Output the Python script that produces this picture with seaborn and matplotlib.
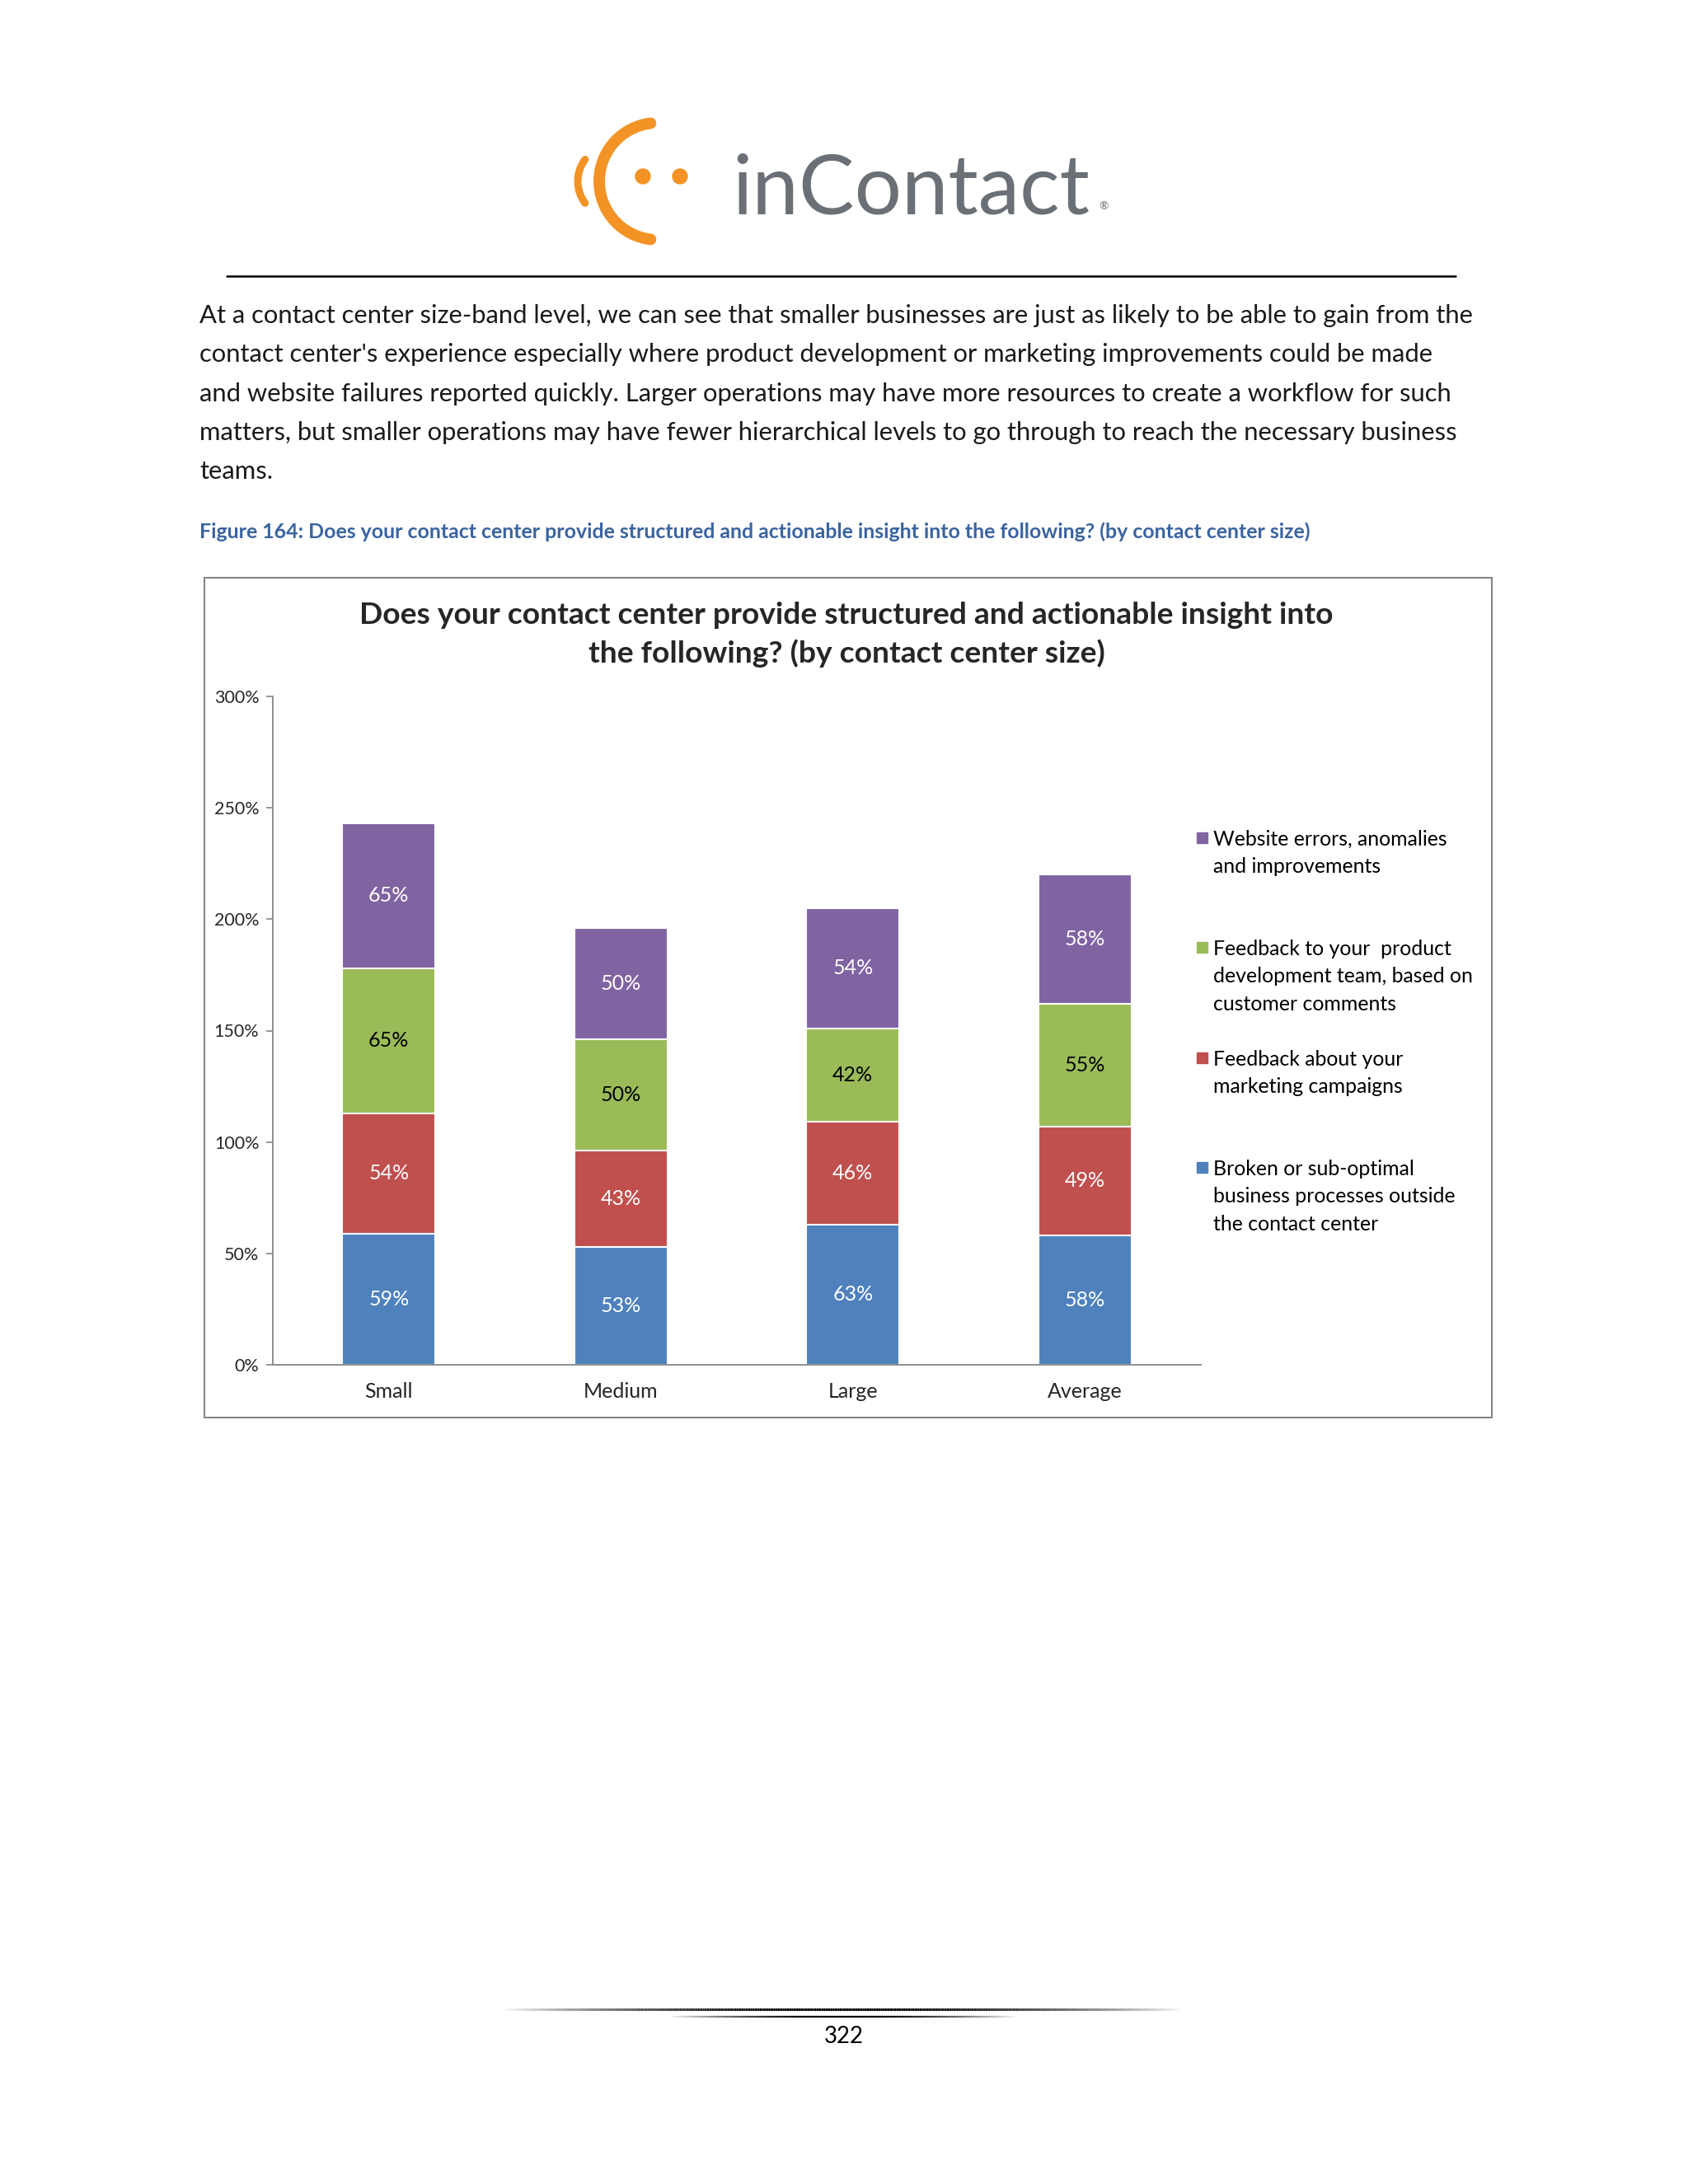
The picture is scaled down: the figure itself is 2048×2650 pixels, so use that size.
import numpy as np
import pandas as pd
import seaborn as sns
import matplotlib.pyplot as plt
from matplotlib.patches import Rectangle, Arc, Circle
from matplotlib.collections import LineCollection

# %%
# data
sizes = ['Small', 'Medium', 'Large', 'Average']
broken = [59, 53, 63, 58]
marketing = [54, 43, 46, 49]
product = [65, 50, 42, 55]
website = [65, 50, 54, 58]

series_labels = [
    'Broken or sub-optimal\nbusiness processes outside\nthe contact center',
    'Feedback about your\nmarketing campaigns',
    'Feedback to your  product\ndevelopment team, based on\ncustomer comments',
    'Website errors, anomalies\nand improvements',
]
colors = ['#4F81BD', '#C0504D', '#9BBB59', '#8064A2']
text_colors = ['white', 'white', 'black', 'white']
yticks = [0, 50, 100, 150, 200, 250, 300]

paragraph = [
    "At a contact center size-band level, we can see that smaller businesses are just as likely to be able to gain from the",
    "contact center's experience especially where product development or marketing improvements could be made",
    "and website failures reported quickly. Larger operations may have more resources to create a workflow for such",
    "matters, but smaller operations may have fewer hierarchical levels to go through to reach the necessary business",
    "teams.",
]
caption = ("Figure 164: Does your contact center provide structured and actionable insight "
           "into the following? (by contact center size)")
chart_title = ("Does your contact center provide structured and actionable insight into\n"
               "the following? (by contact center size)")

# %%
df = pd.DataFrame({'size': sizes, 'broken': broken, 'marketing': marketing,
                   'product': product, 'website': website})
cols = ['broken', 'marketing', 'product', 'website']
cum = df[cols].cumsum(axis=1)

sns.set_style('white')
plt.rcParams['font.family'] = ['Lato', 'DejaVu Sans']

W, H = 2048, 2650
fig = plt.figure(figsize=(W / 100, H / 100), dpi=100)
fig.patch.set_facecolor('white')

# page layer in pixel coordinates
page = fig.add_axes([0, 0, 1, 1])
page.set_xlim(0, W)
page.set_ylim(H, 0)
page.axis('off')

# logo
orange = '#F39325'
page.add_patch(Arc((798, 220), 142, 142, theta1=97, theta2=263, color=orange,
                   lw=10, capstyle='round'))
page.add_patch(Arc((745, 220), 88, 88, theta1=143, theta2=217, color=orange,
                   lw=6.5, capstyle='round'))
page.add_patch(Circle((780, 214), 9, color=orange))
page.add_patch(Circle((825, 214), 9, color=orange))
page.text(888, 259, 'inContact', fontsize=73, color='#6A7075', va='baseline')
page.text(1333, 250, '®', fontsize=10, color='#6A7075', va='center')
page.plot([275, 1766], [335, 335], color='black', lw=1.8)

# paragraph and caption
for i, line in enumerate(paragraph):
    page.text(242, 383 + i * 47.3, line, fontsize=22.3, color='#1a1a1a', va='center')
page.text(242, 645, caption, fontsize=17.9, fontweight='bold', color='#3A64A0', va='center')

# chart frame and title
page.add_patch(Rectangle((248, 701), 1562, 1019, fill=False, edgecolor='#878787', lw=1.5))
page.text(1027, 770, chart_title, fontsize=26.8, fontweight='bold', ha='center',
          va='center', linespacing=1.45)

# legend
leg_tops = [1016, 1149, 1283, 1416]
for k, i in enumerate([3, 2, 1, 0]):
    page.add_patch(Rectangle((1452, leg_tops[k] - 6), 13, 13, color=colors[i]))
    page.text(1472, leg_tops[k] - 9, series_labels[i], fontsize=17.9, va='top',
              linespacing=1.55, color='black')

# footer
def fade_line(x0, x1, y, lw):
    xs = np.linspace(x0, x1, 300)
    segs = [[(xs[j], y), (xs[j + 1], y)] for j in range(len(xs) - 1)]
    mid = (xs[:-1] + xs[1:]) / 2
    a = np.clip(1 - np.abs((mid - (x0 + x1) / 2) / ((x1 - x0) / 2)) ** 2, 0, 1)
    cols_ = [(0, 0, 0, v) for v in a]
    page.add_collection(LineCollection(segs, colors=cols_, linewidths=lw))

fade_line(608, 1436, 2438, 2.2)
fade_line(811, 1234, 2447, 1.6)
page.text(1024, 2471, '322', fontsize=20, ha='center', va='center', color='black')

# %%
# chart axes
ax = fig.add_axes([331 / W, 1 - 1656 / H, (1457 - 331) / W, (1656 - 845) / H])
ax.set_facecolor('none')
for i in reversed(range(4)):
    sns.barplot(x=df['size'], y=cum[cols[i]], color=colors[i], width=0.4, saturation=1,
                edgecolor='white', linewidth=1.5, ax=ax)

for i, c in enumerate(cols):
    bottoms = cum[c] - df[c]
    for j, v in enumerate(df[c]):
        ax.text(j, bottoms[j] + v / 2, f'{v}%', ha='center', va='center',
                fontsize=18, color=text_colors[i])

ax.set_xlim(-0.5, 3.5)
ax.set_ylim(0, 300)
ax.set_yticks(yticks)
ax.set_yticklabels([f'{t}%' for t in yticks])
ax.set_xlabel('')
ax.set_ylabel('')
for s in ['top', 'right']:
    ax.spines[s].set_visible(False)
for s in ['left', 'bottom']:
    ax.spines[s].set_color('#868686')
    ax.spines[s].set_linewidth(1.3)
ax.set_xticks(np.arange(-0.5, 4, 1), minor=True)
ax.tick_params(axis='x', which='major', length=0, pad=15, labelsize=18)
ax.tick_params(axis='x', which='minor', length=7, color='#868686', width=1.2, direction='out')
ax.tick_params(axis='y', length=6, color='#868686', width=1.2, direction='out',
               labelsize=15.5, pad=6, left=True)

fig.savefig('out.png', dpi=100)
